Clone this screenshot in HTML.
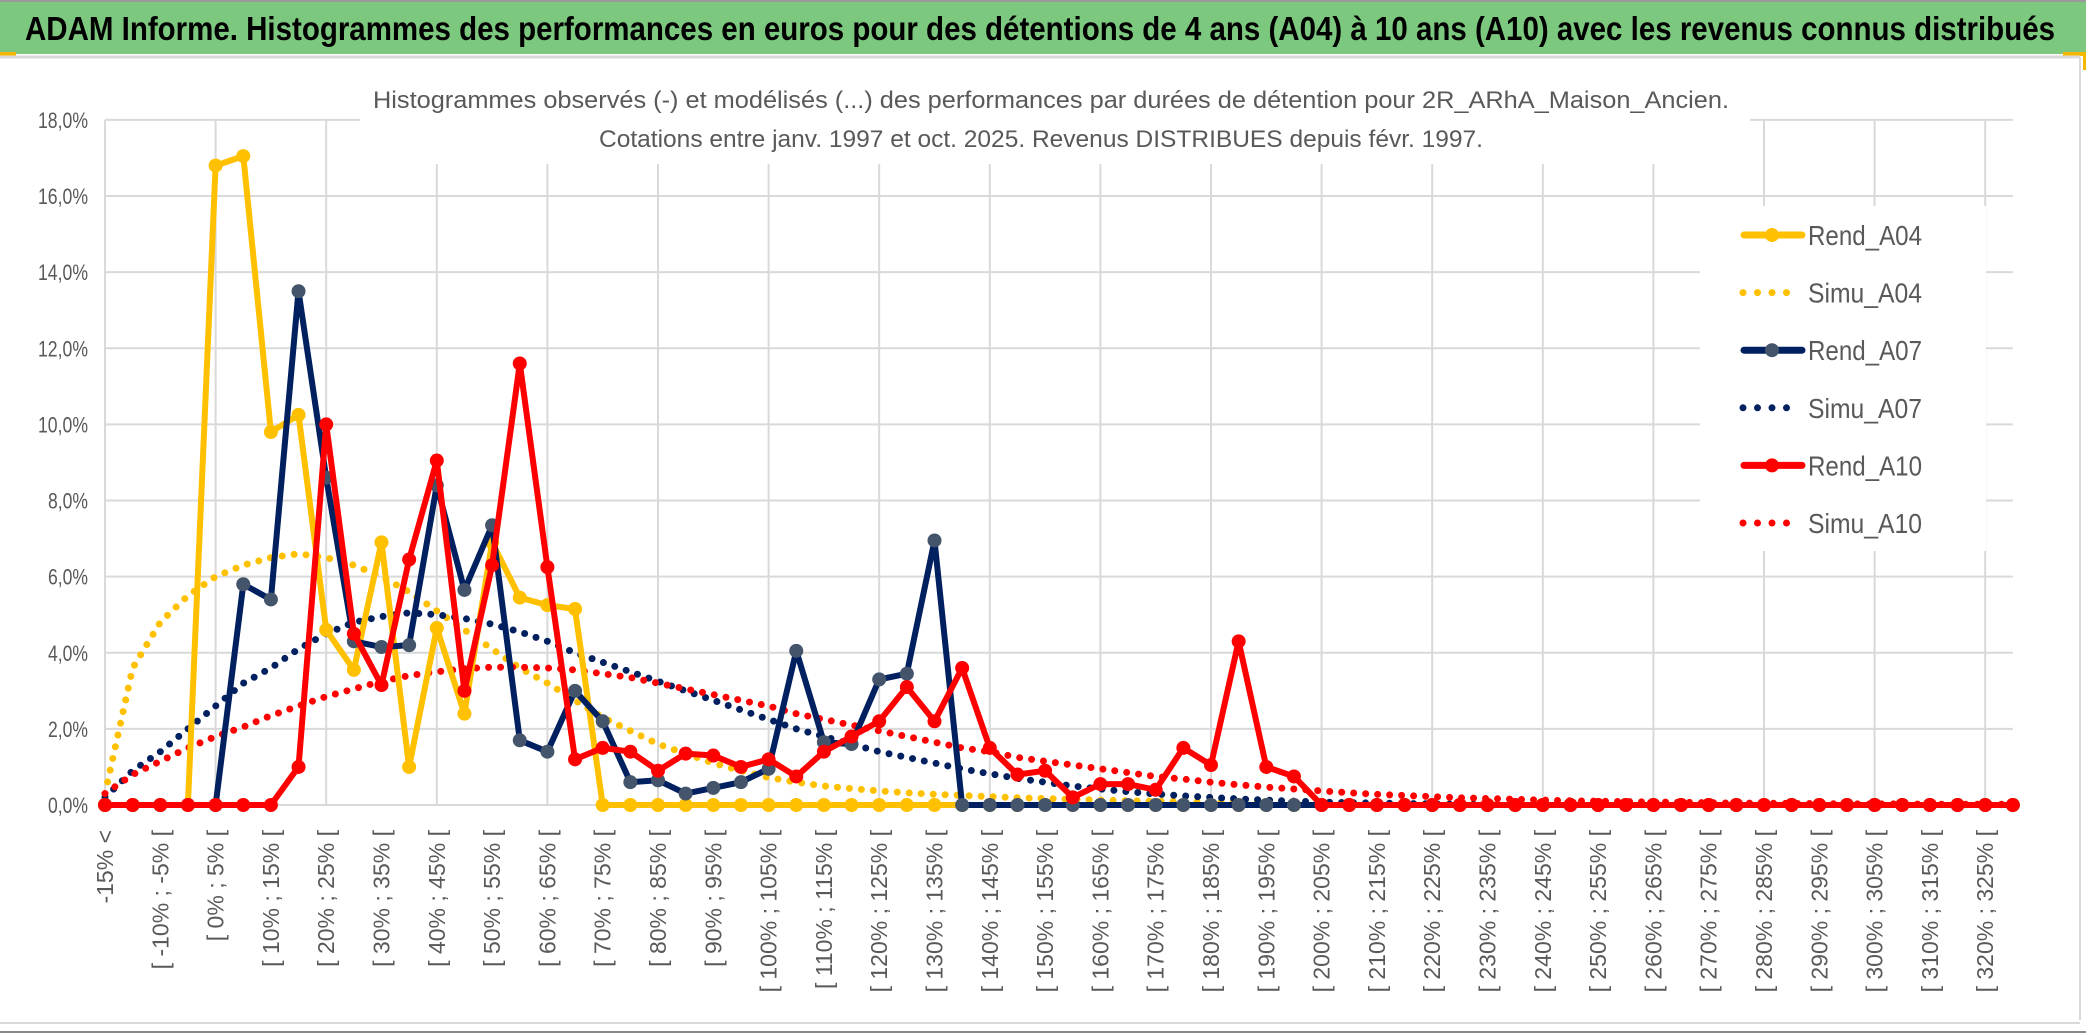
<!DOCTYPE html>
<html><head><meta charset="utf-8"><title>ADAM Informe</title>
<style>
html,body{margin:0;padding:0;background:#fff;}
svg{display:block;font-family:"Liberation Sans",sans-serif;}
</style></head>
<body>
<svg id="chart" width="2086" height="1033" viewBox="0 0 2086 1033" xmlns="http://www.w3.org/2000/svg">
  <rect x="0" y="0" width="2086" height="1033" fill="#fff"/>
  <g>
    <rect x="0" y="2" width="2086" height="52" fill="#7dc87f"/>
    <line x1="0" y1="1" x2="2086" y2="1" stroke="#999" stroke-width="2"/>
    <rect x="0" y="52" width="16" height="4" fill="#f5b800"/>
    <rect x="2063" y="52" width="23" height="4" fill="#f5b800"/>
    <rect x="2083" y="52" width="3" height="18" fill="#f5b800"/>
    <line x1="0" y1="57" x2="2080" y2="57" stroke="#d9d9d9" stroke-width="3"/>
    <line x1="2080" y1="57" x2="2080" y2="1020" stroke="#d9d9d9" stroke-width="2"/>
    <text x="25" y="40" font-size="33" font-weight="bold" fill="#000" textLength="2030" lengthAdjust="spacingAndGlyphs">ADAM Informe. Histogrammes des performances en euros pour des détentions de 4 ans (A04) à 10 ans (A10) avec les revenus connus distribués</text>
  </g>
  <line x1="0" y1="1023" x2="2080" y2="1023" stroke="#d9d9d9" stroke-width="2"/>
  <line x1="0" y1="1032" x2="2086" y2="1032" stroke="#888" stroke-width="2"/>
  <g id="grid"></g>
  <g id="yaxis"></g>
  <g id="xaxis"></g>
  <rect x="360" y="68" width="1390" height="96" fill="#fff"/>
  <text x="1051" y="108" font-size="24" fill="#595959" text-anchor="middle" textLength="1356" lengthAdjust="spacingAndGlyphs">Histogrammes observés (-) et modélisés (...) des performances par durées de détention pour 2R_ARhA_Maison_Ancien.</text>
  <text x="1041" y="147" font-size="24" fill="#595959" text-anchor="middle" textLength="884" lengthAdjust="spacingAndGlyphs">Cotations entre janv. 1997 et oct. 2025. Revenus DISTRIBUES depuis févr. 1997.</text>
  <g id="series"></g>
  <g id="legend"></g>
</svg>
<script>
const categories = [];
categories.push("-15% <");
for (let lo = -15; lo <= 325; lo += 5) { categories.push("[ " + lo + "% ; " + (lo + 5) + "% ["); }
const yTicks = [0, 2, 4, 6, 8, 10, 12, 14, 16, 18];
const yTickLabels = ["0,0%", "2,0%", "4,0%", "6,0%", "8,0%", "10,0%", "12,0%", "14,0%", "16,0%", "18,0%"];
function pad(a){ while (a.length < 70) a.push(a === simuA04 || a === simuA10 || a === simuA07 ? 0.01 : 0); return a; }
const rendA04 = [0,0,0,0,16.8,17.05,9.8,10.25,4.6,3.55,6.9,1.0,4.65,2.4,6.9,5.45,5.25,5.15,0];
const simuA04 = [0.3,3.6,4.8,5.5,6.0,6.3,6.5,6.6,6.5,6.3,6.0,5.6,5.1,4.6,4.1,3.6,3.2,2.75,2.3,1.95,1.6,1.35,1.1,0.9,0.72,0.6,0.5,0.43,0.37,0.32,0.28,0.25,0.22,0.19,0.17,0.15,0.13,0.11,0.1,0.09,0.08,0.07,0.06,0.05,0.05,0.04,0.04,0.03,0.03,0.02,0.02,0.02];
const rendA07 = [0,0,0,0,0,5.8,5.4,13.5,8.6,4.3,4.15,4.2,8.4,5.65,7.35,1.7,1.4,3.0,2.2,0.6,0.65,0.3,0.45,0.6,0.95,4.05,1.65,1.6,3.3,3.45,6.95,0];
const simuA07 = [0.2,0.9,1.4,2.0,2.6,3.2,3.6,4.1,4.5,4.8,4.95,5.05,5.0,4.9,4.75,4.55,4.3,4.0,3.75,3.5,3.25,3.0,2.75,2.5,2.25,2.0,1.8,1.6,1.4,1.25,1.1,0.95,0.82,0.7,0.6,0.5,0.42,0.35,0.29,0.24,0.2,0.16,0.13,0.1,0.08,0.06,0.05,0.04,0.03,0.02];
const rendA10 = [0,0,0,0,0,0,0,1.0,10.0,4.5,3.15,6.45,9.05,3.0,6.3,11.6,6.25,1.2,1.5,1.4,0.9,1.35,1.3,1.0,1.2,0.75,1.4,1.8,2.2,3.1,2.2,3.6,1.5,0.8,0.9,0.2,0.55,0.55,0.4,1.5,1.05,4.3,1.0,0.75,0];
const simuA10 = [0.3,0.8,1.15,1.5,1.8,2.05,2.35,2.6,2.85,3.05,3.25,3.4,3.5,3.58,3.62,3.62,3.6,3.55,3.45,3.35,3.2,3.05,2.9,2.75,2.6,2.4,2.25,2.1,1.95,1.8,1.65,1.5,1.4,1.25,1.15,1.05,0.95,0.85,0.75,0.68,0.6,0.53,0.47,0.42,0.37,0.32,0.28,0.25,0.22,0.19,0.17,0.15,0.13,0.11,0.1,0.09,0.08,0.07,0.06,0.05,0.05,0.04,0.04,0.03,0.03,0.03,0.02,0.02,0.02,0.02];
pad(rendA04); pad(simuA04); pad(rendA07); pad(simuA07); pad(rendA10); pad(simuA10);

const NS = "http://www.w3.org/2000/svg";
const X0 = 105, STEP = 27.65, Y0 = 805, PER = 38.06;
function xScale(i){ return X0 + i * STEP; }
function yScale(v){ return Y0 - v * PER; }
function mk(tag, attrs, parent){ const e = document.createElementNS(NS, tag); for (const k in attrs) e.setAttribute(k, attrs[k]); parent.appendChild(e); return e; }

const grid = document.getElementById("grid");
const xEnd = xScale(categories.length - 1);
yTicks.forEach(function(t){
  const l = mk("line", {x1: X0, x2: xEnd, y1: yScale(t), y2: yScale(t), stroke: "#d9d9d9", "stroke-width": 2}, grid);
  
  
});
for (let i = 0; i < categories.length; i += 4) {
  const l = mk("line", {x1: xScale(i), x2: xScale(i), y1: yScale(18), y2: Y0, stroke: "#d9d9d9", "stroke-width": 2}, grid);
  
  
}
const yaxis = document.getElementById("yaxis");
yTicks.forEach(function(t, i){
  const tx = mk("text", {x: 88, y: yScale(t) + 8, "font-size": 22, fill: "#595959", "text-anchor": "end", textLength: t >= 10 ? 50 : 40, lengthAdjust: "spacingAndGlyphs"}, yaxis);
  tx.textContent = yTickLabels[i];
  
  
});
const xaxis = document.getElementById("xaxis");
categories.forEach(function(c, i){
  if (i % 2 !== 0) return;
  const x = xScale(i) + 8, y = 830;
  const tx = mk("text", {x: x, y: y, "font-size": 23, fill: "#595959", "text-anchor": "end", transform: "rotate(-90 " + x + " " + y + ")"}, xaxis);
  tx.textContent = c;
  
  
});

const series = document.getElementById("series");
function drawSeries(vals, color, dotted, markerColor, name){
  const g = mk("g", {}, series);
  
  
  const pts = vals.map(function(v, i){ return xScale(i).toFixed(1) + "," + yScale(v).toFixed(1); }).join(" ");
  const attrs = {points: pts, fill: "none", stroke: color, "stroke-linejoin": "round"};
  if (dotted) { attrs["stroke-width"] = 7; attrs["stroke-dasharray"] = "0 12"; attrs["stroke-linecap"] = "round"; }
  else { attrs["stroke-width"] = 6; }
  const pl = mk("polyline", attrs, g);
  
  
  if (!dotted) {
    vals.forEach(function(v, i){
      const c = mk("circle", {cx: xScale(i), cy: yScale(v), r: 7, fill: markerColor}, g);
      
      
    });
  }
}
drawSeries(simuA04, "#ffc000", true, null, "simu-a04");
drawSeries(simuA07, "#002060", true, null, "simu-a07");
drawSeries(simuA10, "#ff0000", true, null, "simu-a10");
drawSeries(rendA04, "#ffc000", false, "#ffc000", "rend-a04");
drawSeries(rendA07, "#002060", false, "#44546a", "rend-a07");
drawSeries(rendA10, "#ff0000", false, "#ff0000", "rend-a10");

const legend = document.getElementById("legend");
mk("rect", {x: 1700, y: 206, width: 286, height: 345, fill: "#fff"}, legend);
const legNames = ["Rend_A04", "Simu_A04", "Rend_A07", "Simu_A07", "Rend_A10", "Simu_A10"];
const legColors = ["#ffc000", "#ffc000", "#002060", "#002060", "#ff0000", "#ff0000"];
const legMarkers = ["#ffc000", null, "#44546a", null, "#ff0000", null];
legNames.forEach(function(n, i){
  const y = 235 + i * 57.6;
  const g = mk("g", {}, legend);
  
  
  if (legMarkers[i]) {
    mk("line", {x1: 1744, x2: 1802, y1: y, y2: y, stroke: legColors[i], "stroke-width": 7, "stroke-linecap": "round"}, g);
    mk("circle", {cx: 1772, cy: y, r: 7, fill: legMarkers[i]}, g);
  } else {
    const last = i === 5 ? 1800 : 1789;
    mk("line", {x1: 1743, x2: last, y1: y, y2: y, stroke: legColors[i], "stroke-width": 7, "stroke-dasharray": "0 14.5", "stroke-linecap": "round"}, g);
  }
  const t = mk("text", {x: 1808, y: y + 10, "font-size": 28, fill: "#595959", textLength: 114, lengthAdjust: "spacingAndGlyphs"}, g);
  t.textContent = n;
});
</script>
</body></html>
